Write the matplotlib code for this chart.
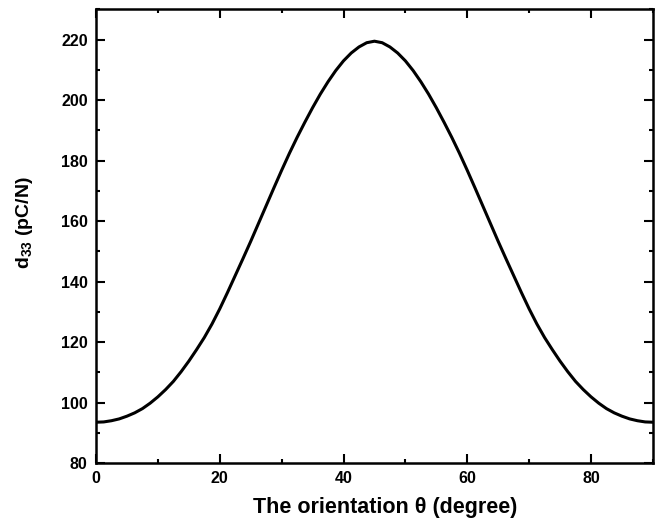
import matplotlib
matplotlib.use('Agg')
import matplotlib.pyplot as plt
from matplotlib.ticker import MultipleLocator

# orientation angle (degree) and d33 (pC/N)
theta = [0, 1.25, 2.5, 3.75, 5, 6.25, 7.5, 8.75, 10, 11.25, 12.5, 13.75, 15,
         16.25, 17.5, 18.75, 20, 21.25, 22.5, 23.75, 25, 26.25, 27.5, 28.75,
         30, 31.25, 32.5, 33.75, 35, 36.25, 37.5, 38.75, 40, 41.25, 42.5,
         43.75, 45, 46.25, 47.5, 48.75, 50, 51.25, 52.5, 53.75, 55, 56.25,
         57.5, 58.75, 60, 61.25, 62.5, 63.75, 65, 66.25, 67.5, 68.75, 70,
         71.25, 72.5, 73.75, 75, 76.25, 77.5, 78.75, 80, 81.25, 82.5, 83.75,
         85, 86.25, 87.5, 88.75, 90]
d33 = [93.5, 93.6, 94.0, 94.6, 95.5, 96.6, 98.0, 99.8, 101.9, 104.3, 107.0,
       110.2, 113.7, 117.5, 121.5, 126.0, 131.0, 136.4, 142.0, 147.6, 153.3,
       159.2, 165.1, 171.0, 176.8, 182.4, 187.7, 192.7, 197.5, 202.0, 206.1,
       209.8, 213.0, 215.6, 217.6, 219.0, 219.5, 219.0, 217.6, 215.6, 213.0,
       209.8, 206.1, 202.0, 197.5, 192.7, 187.7, 182.4, 176.8, 171.0, 165.1,
       159.2, 153.3, 147.6, 142.0, 136.4, 131.0, 126.0, 121.5, 117.5, 113.7,
       110.2, 107.0, 104.3, 101.9, 99.8, 98.0, 96.6, 95.5, 94.6, 94.0, 93.6,
       93.5]

plt.rcParams['font.family'] = ['Liberation Sans', 'DejaVu Sans']
plt.rcParams['font.weight'] = 'bold'
plt.rcParams['mathtext.fontset'] = 'custom'
plt.rcParams['mathtext.rm'] = 'Liberation Sans:bold'
plt.rcParams['mathtext.bf'] = 'Liberation Sans:bold'
plt.rcParams['mathtext.default'] = 'bf'

fig = plt.figure(figsize=(6.59, 5.25), dpi=100)
ax = fig.add_axes([0.1457, 0.118, 0.845, 0.864])

ax.plot(theta, d33, color='black', linewidth=2.2, solid_joinstyle='round')

ax.set_xlim(0, 90)
ax.set_ylim(80, 230)
ax.xaxis.set_major_locator(MultipleLocator(20))
ax.xaxis.set_minor_locator(MultipleLocator(10))
ax.yaxis.set_major_locator(MultipleLocator(20))
ax.yaxis.set_minor_locator(MultipleLocator(10))

for s in ax.spines.values():
    s.set_linewidth(1.8)
ax.tick_params(which='both', direction='in', top=True, right=True, width=1.5)
ax.tick_params(which='major', length=6.5, labelsize=11.5, pad=6)
ax.tick_params(which='minor', length=3.2)
for lab in ax.get_xticklabels() + ax.get_yticklabels():
    lab.set_fontweight('bold')

ax.set_xlabel('The orientation \u03b8 (degree)', fontsize=15.5, fontweight='bold')
ax.xaxis.set_label_coords(0.52, -0.075)
ax.set_ylabel('d$_{33}$ (pC/N)', fontsize=14, fontweight='bold')
ax.yaxis.set_label_coords(-0.11, 0.53)

fig.savefig('out.png', dpi=100)
